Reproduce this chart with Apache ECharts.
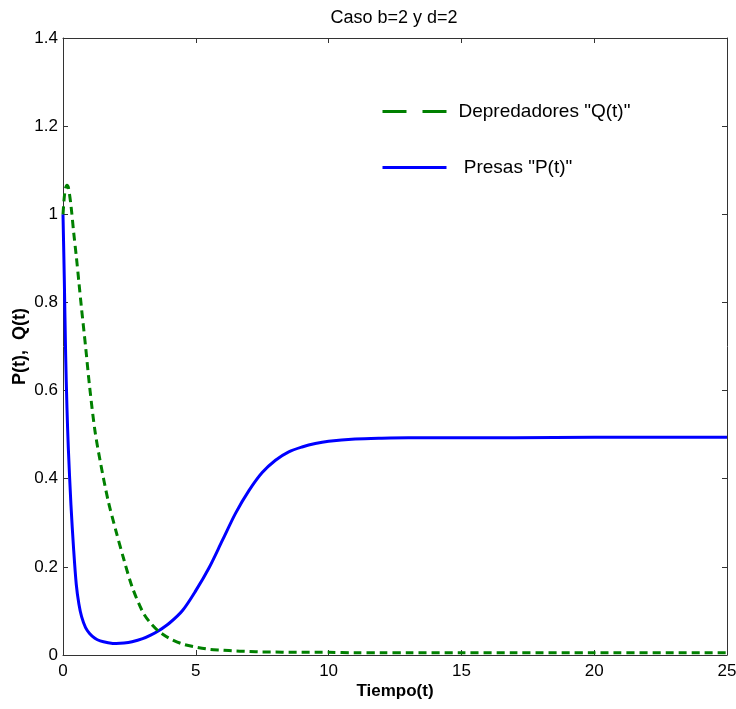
<!DOCTYPE html>
<html>
<head>
<meta charset="utf-8">
<script src="https://cdn.jsdelivr.net/npm/echarts@6/dist/echarts.min.js"></script>
<style>
  html, body { margin: 0; padding: 0; background: #fff; }
  #chart { width: 736px; height: 709px; }
</style>
</head>
<body>
<div id="chart"></div>
<script>
// tiempo t
const tiempo = [0, 0.05, 0.1, 0.15, 0.2, 0.3, 0.4, 0.5, 0.6, 0.7, 0.85, 1.0, 1.2, 1.4, 1.7, 2.0, 2.3, 2.6, 3.0, 3.3, 3.6, 4.0, 4.5, 5.0, 5.5, 6.0, 6.5, 7.0, 7.5, 8.0, 8.5, 9.0, 9.5, 10, 11, 12, 13, 15, 17, 20, 25];
// presas P(t)
const presas = [1.0, 0.85, 0.68, 0.56, 0.47, 0.34, 0.24, 0.16, 0.115, 0.087, 0.062, 0.049, 0.038, 0.032, 0.028, 0.026, 0.027, 0.030, 0.037, 0.045, 0.055, 0.072, 0.101, 0.146, 0.198, 0.26, 0.322, 0.373, 0.414, 0.442, 0.461, 0.472, 0.48, 0.485, 0.49, 0.492, 0.493, 0.493, 0.493, 0.494, 0.494];
// depredadores Q(t)
const depredadores = [1.0, 1.04, 1.06, 1.066, 1.062, 1.02, 0.96, 0.905, 0.845, 0.785, 0.70, 0.61, 0.51, 0.44, 0.35, 0.28, 0.215, 0.155, 0.098, 0.072, 0.054, 0.038, 0.025, 0.018, 0.013, 0.011, 0.009, 0.008, 0.007, 0.007, 0.006, 0.006, 0.006, 0.006, 0.005, 0.005, 0.005, 0.005, 0.005, 0.005, 0.005];

const font = "'Liberation Sans', Arial, sans-serif";
const chart = echarts.init(document.getElementById("chart"));

const pair = (ys) => tiempo.map((t, i) => [t, ys[i]]);

const axisCommon = () => ({
  axisLine: { onZero: false, lineStyle: { color: "#333", width: 1 } },
  axisTick: { inside: true, length: 5, lineStyle: { color: "#333" } },
  splitLine: { show: false },
});

const option = {
  animation: false,
  backgroundColor: "#fff",
  textStyle: { fontFamily: font },
  title: {
    text: "Caso b=2 y d=2",
    left: 389,
    textAlign: "center",
    top: 4,
    textStyle: { fontFamily: font, fontSize: 18, fontWeight: "normal", color: "#000" },
  },
  grid: { left: 63, right: 9, top: 38, bottom: 54, containLabel: false, outerBoundsMode: "none" },
  legend: {
    orient: "vertical",
    left: 381,
    top: 102,
    padding: 0,
    itemWidth: 64,
    itemHeight: 14,
    itemGap: 37,
    itemStyle: { opacity: 0 },
    textStyle: { fontFamily: font, fontSize: 19, color: "#000", padding: [0, 0, 0, 7] },
    data: [
      { name: "Depredadores \"Q(t)\"", lineStyle: { color: "#008000", width: 3, type: [24, 16] } },
      { name: " Presas \"P(t)\"", lineStyle: { color: "#0000ff", width: 3, type: "solid" } },
    ],
  },
  xAxis: [
    Object.assign(axisCommon(), {
      type: "value", min: 0, max: 25, interval: 5, position: "bottom",
      name: "Tiempo(t)", nameLocation: "middle", nameGap: 28, nameMoveOverlap: false,
      nameTextStyle: { fontFamily: font, fontSize: 17, fontWeight: "bold", color: "#000" },
      axisLabel: { fontSize: 17, color: "#000", margin: 8 },
    }),
    Object.assign(axisCommon(), {
      type: "value", min: 0, max: 25, interval: 5, position: "top",
      axisLabel: { show: false },
    }),
  ],
  yAxis: [
    Object.assign(axisCommon(), {
      type: "value", min: 0, max: 1.4, interval: 0.2, position: "left",
      name: "P(t),  Q(t)", nameLocation: "middle", nameGap: 34, nameRotate: 90, nameMoveOverlap: false,
      nameTextStyle: { fontFamily: font, fontSize: 18, fontWeight: "bold", color: "#000" },
      axisLabel: { fontSize: 17, color: "#000", margin: 5 },
    }),
    Object.assign(axisCommon(), {
      type: "value", min: 0, max: 1.4, interval: 0.2, position: "right",
      axisLabel: { show: false },
    }),
  ],
  series: [
    {
      name: "Depredadores \"Q(t)\"",
      type: "line",
      smooth: 0.3,
      symbol: "none",
      data: pair(depredadores),
      itemStyle: { color: "#008000" },
      lineStyle: { color: "#008000", width: 3, type: [8, 5] },
      z: 3,
    },
    {
      name: " Presas \"P(t)\"",
      type: "line",
      smooth: 0.3,
      symbol: "none",
      data: pair(presas),
      itemStyle: { color: "#0000ff" },
      lineStyle: { color: "#0000ff", width: 3 },
      z: 2,
    },
  ],
};

chart.setOption(option);
</script>
</body>
</html>
